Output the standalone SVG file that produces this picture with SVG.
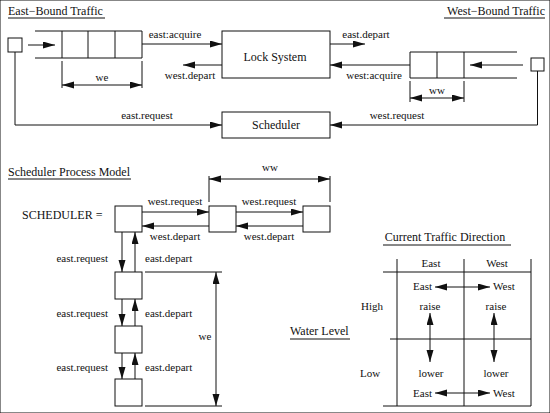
<svg xmlns="http://www.w3.org/2000/svg" width="550" height="413" viewBox="0 0 550 413">
<defs>
<marker id="ah" markerUnits="userSpaceOnUse" markerWidth="12" markerHeight="8" refX="12" refY="3.5" orient="auto-start-reverse"><path d="M0,0 L12,3.5 L0,7 z" fill="#111"/></marker>
<style>
text{font-family:"Liberation Serif","Times New Roman",serif;font-size:11px;fill:#111}
.t12{font-size:12px}
.m{text-anchor:middle}
.e{text-anchor:end}
line,path.l,polyline{stroke:#111;stroke-width:1;fill:none}
rect{fill:#fff;stroke:#111;stroke-width:1}
.a{marker-end:url(#ah)}
.d{marker-start:url(#ah);marker-end:url(#ah)}
</style>
</defs>
<rect width="550" height="413" fill="#fff" stroke="none"/>

<g id="titles">
<text class="t12" x="8" y="15">East−Bound Traffic</text>
<line x1="8" y1="18" x2="105" y2="18"/>
<text class="t12" x="545" y="15" text-anchor="end">West−Bound Traffic</text>
<line x1="444" y1="18" x2="545" y2="18"/>
<text class="t12" x="8" y="176">Scheduler Process Model</text>
<line x1="8" y1="179" x2="131" y2="179"/>
<text class="t12" x="22" y="219">SCHEDULER =</text>
<text class="t12" x="445" y="241" text-anchor="middle">Current Traffic Direction</text>
<line x1="383" y1="245" x2="511" y2="245"/>
<text class="t12" x="290" y="335">Water Level</text>
<line x1="290" y1="339" x2="350" y2="339"/>
</g>

<g id="east-source"><rect x="8" y="38" width="14" height="14"/></g>
<g id="west-source"><rect x="531" y="58" width="13" height="13"/></g>

<g id="east-queue">
<line x1="35" y1="31" x2="142" y2="31"/>
<line x1="35" y1="58" x2="142" y2="58"/>
<line x1="62" y1="31" x2="62" y2="58"/>
<line x1="88" y1="31" x2="88" y2="58"/>
<line x1="115" y1="31" x2="115" y2="58"/>
<line x1="142" y1="31" x2="142" y2="58"/>
</g>
<g id="west-queue">
<line x1="410" y1="52" x2="517" y2="52"/>
<line x1="410" y1="78" x2="517" y2="78"/>
<line x1="410" y1="52" x2="410" y2="78"/>
<line x1="437" y1="52" x2="437" y2="78"/>
<line x1="464" y1="52" x2="464" y2="78"/>
</g>

<g id="lock-system">
<rect x="222" y="31" width="108" height="47"/>
<text class="t12 m" x="275" y="61">Lock System</text>
</g>
<g id="scheduler">
<rect x="222" y="112" width="108" height="26"/>
<text class="t12 m" x="276" y="129">Scheduler</text>
</g>

<g id="sched-states">
<rect x="115" y="206" width="27" height="26"/>
<rect x="209" y="206" width="27" height="26"/>
<rect x="303" y="206" width="27" height="26"/>
<rect x="115" y="272" width="27" height="27"/>
<rect x="115" y="326" width="27" height="27"/>
<rect x="115" y="379" width="27" height="27"/>
</g>

<g id="table">
<line x1="397" y1="259" x2="397" y2="406"/>
<line x1="464" y1="259" x2="464" y2="406"/>
<line x1="531" y1="259" x2="531" y2="406"/>
<line x1="383" y1="272" x2="531" y2="272"/>
<line x1="390" y1="339" x2="531" y2="339"/>
<line x1="383" y1="406" x2="531" y2="406"/>
<text class="m" x="431" y="267">East</text>
<text class="m" x="497" y="267">West</text>
<text class="m" x="372" y="310">High</text>
<text class="m" x="370" y="377">Low</text>
<text class="e" x="432" y="290">East</text>
<text x="493" y="290">West</text>
<text class="m" x="430" y="310">raise</text>
<text class="m" x="496" y="310">raise</text>
<text class="m" x="431" y="377">lower</text>
<text class="m" x="496" y="377">lower</text>
<text class="e" x="432" y="397">East</text>
<text x="493" y="397">West</text>
</g>

<g id="connectors">
<line class="a" x1="28" y1="45" x2="55" y2="45"/>
<line class="a" x1="142" y1="44" x2="222" y2="44"/>
<text class="m" x="175" y="38">east:acquire</text>
<line class="a" x1="222" y1="65" x2="183" y2="65"/>
<text class="m" x="190" y="79">west.depart</text>
<line class="a" x1="330" y1="44" x2="365" y2="44"/>
<text class="m" x="366" y="38">east.depart</text>
<line class="a" x1="410" y1="65" x2="330" y2="65"/>
<text class="m" x="374" y="79">west:acquire</text>
<line class="a" x1="523" y1="65" x2="470" y2="65"/>
<polyline class="a" points="15,52 15,125 222,125"/>
<text class="m" x="147" y="119">east.request</text>
<polyline class="a" points="537.5,71 537.5,125 330,125"/>
<text class="m" x="397" y="119">west.request</text>

<line x1="62" y1="61" x2="62" y2="88"/>
<line x1="142" y1="61" x2="142" y2="88"/>
<line class="d" x1="62" y1="85" x2="142" y2="85"/>
<text class="m" x="102" y="81">we</text>
<line x1="410" y1="81" x2="410" y2="102"/>
<line x1="464" y1="81" x2="464" y2="102"/>
<line class="d" x1="410" y1="98" x2="464" y2="98"/>
<text class="m" x="437" y="94">ww</text>

<line class="a" x1="142" y1="212" x2="209" y2="212"/>
<line class="a" x1="236" y1="212" x2="303" y2="212"/>
<line class="a" x1="209" y1="226" x2="142" y2="226"/>
<line class="a" x1="303" y1="226" x2="236" y2="226"/>
<text class="m" x="175" y="205">west.request</text>
<text class="m" x="269" y="205">west.request</text>
<text class="m" x="175" y="240">west.depart</text>
<text class="m" x="269" y="240">west.depart</text>
<line x1="209" y1="176" x2="209" y2="202"/>
<line x1="330" y1="176" x2="330" y2="202"/>
<line class="d" x1="209" y1="179" x2="330" y2="179"/>
<text class="m" x="270" y="171">ww</text>

<line class="a" x1="122" y1="232" x2="122" y2="272"/>
<line class="a" x1="135" y1="272" x2="135" y2="232"/>
<line class="a" x1="122" y1="299" x2="122" y2="326"/>
<line class="a" x1="135" y1="326" x2="135" y2="299"/>
<line class="a" x1="122" y1="353" x2="122" y2="379"/>
<line class="a" x1="135" y1="379" x2="135" y2="353"/>
<text class="e" x="108" y="262">east.request</text>
<text class="e" x="108" y="317">east.request</text>
<text class="e" x="108" y="371">east.request</text>
<text x="145" y="262">east.depart</text>
<text x="145" y="317">east.depart</text>
<text x="145" y="371">east.depart</text>
<line x1="145" y1="272" x2="222" y2="272"/>
<line x1="145" y1="406" x2="222" y2="406"/>
<line class="d" x1="216" y1="272" x2="216" y2="406"/>
<text class="m" x="205" y="340">we</text>

<line class="d" x1="435" y1="287" x2="490" y2="287"/>
<line class="d" x1="435" y1="393" x2="490" y2="393"/>
<line class="d" x1="430" y1="313" x2="430" y2="362"/>
<line class="d" x1="494" y1="313" x2="494" y2="362"/>
</g>
</svg>
